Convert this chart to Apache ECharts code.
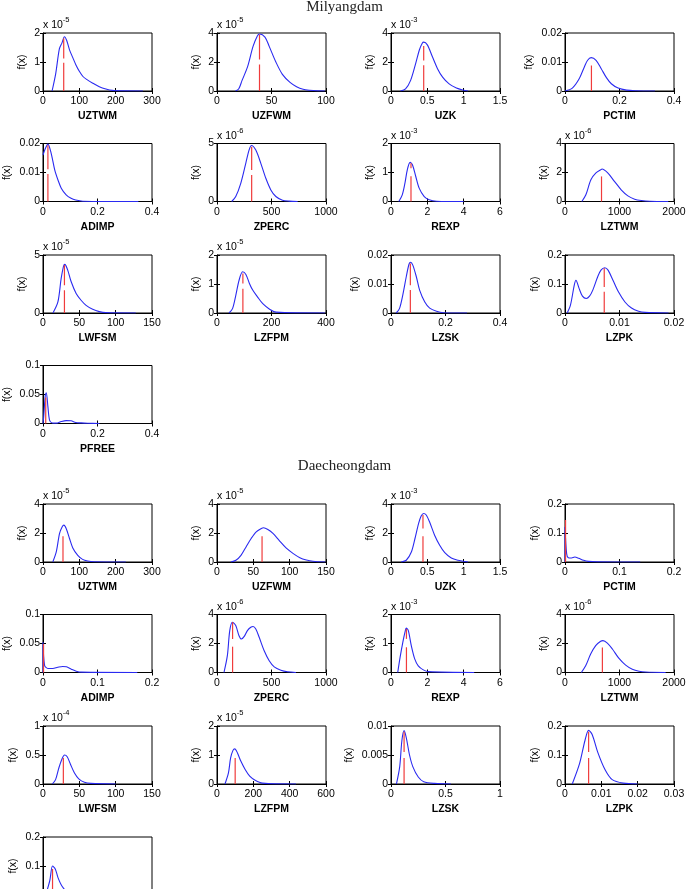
<!DOCTYPE html>
<html><head><meta charset="utf-8">
<script src="https://cdn.jsdelivr.net/npm/echarts@6/dist/echarts.min.js"></script>
<style>html,body{margin:0;padding:0;background:#fff}#c{width:689px;height:889px}</style>
</head><body><div id="c"></div>
<script>
// ---------- DATA ----------
const params = ['UZTWM','UZFWM','UZK','PCTIM','ADIMP','ZPERC','REXP','LZTWM','LWFSM','LZFPM','LZSK','LZPK','PFREE'];

// Milyangdam axis settings
const milXMax  = [300,100,1.5,0.4,0.4,1000,6,2000,150,400,0.4,0.02,0.4];
const milXStep = [100,50,0.5,0.2,0.2,500,2,1000,50,200,0.2,0.01,0.2];
const milYMax  = [2,4,4,0.02,0.02,5,2,4,5,2,0.02,0.2,0.1];
const milYStep = [1,2,2,0.01,0.01,5,1,2,5,1,0.01,0.1,0.05];
const milExp   = [-5,-5,-3,null,null,-6,-3,-6,-5,-5,null,null,null];

// Daecheongdam axis settings
const daeXMax  = [300,150,1.5,0.2,0.2,1000,6,2000,150,600,1,0.03,0.4];
const daeXStep = [100,50,0.5,0.1,0.1,500,2,1000,50,200,0.5,0.01,0.2];
const daeYMax  = [4,4,4,0.2,0.1,4,2,4,1,2,0.01,0.2,0.2];
const daeYStep = [2,2,2,0.1,0.05,2,1,2,0.5,1,0.005,0.1,0.1];
const daeExp   = [-5,-5,-3,null,null,-6,-3,-6,-4,-5,null,null,null];

// Milyangdam densities [x, f(x) in displayed units]
const milUZTWM = [[25,0],[35,0.6],[45,1.45],[52,1.65],[59,1.87],[65,1.75],[73,1.42],[82,1.15],[91,0.89],[100,0.68],[110,0.5],[120,0.4],[137,0.27],[155,0.15],[173,0.07],[191,0.02],[220,0.005],[275,0]];
const milUZFWM = [[17,0],[20,0.15],[23,0.73],[28,1.66],[33,3.06],[37,3.8],[39,3.93],[44,3.72],[48,3.06],[54,2.0],[60,1.15],[67,0.6],[73,0.3],[79,0.12],[85,0.05],[92,0.01],[99,0]];
const milUZK   = [[0.13,0],[0.2,0.14],[0.27,0.73],[0.34,1.9],[0.39,2.83],[0.43,3.3],[0.45,3.37],[0.5,3.18],[0.57,2.36],[0.64,1.54],[0.71,0.96],[0.8,0.49],[0.9,0.21],[0.99,0.07],[1.06,0]];
const milPCTIM = [[0,0],[0.027,0.001],[0.052,0.0042],[0.071,0.0083],[0.083,0.0106],[0.096,0.0115],[0.114,0.0106],[0.133,0.0077],[0.152,0.0046],[0.17,0.0025],[0.195,0.001],[0.226,0.0003],[0.26,0.0001],[0.33,0]];
const milADIMP = [[0,0.016],[0.006,0.0177],[0.018,0.0198],[0.03,0.0166],[0.043,0.0109],[0.055,0.0074],[0.067,0.0046],[0.085,0.0023],[0.103,0.0011],[0.12,0.0005],[0.146,0.0001],[0.35,0]];
const milZPERC = [[135,0],[172,0.43],[218,1.57],[264,3.29],[294,4.43],[316,4.83],[356,4.43],[402,3.29],[448,2.0],[494,1.0],[540,0.43],[601,0.11],[663,0.03],[740,0]];
const milREXP  = [[0.43,0],[0.62,0.23],[0.77,0.64],[0.9,1.1],[1.05,1.35],[1.18,1.27],[1.36,0.87],[1.55,0.46],[1.83,0.17],[2.1,0.06],[2.5,0.01],[4.0,0]];
const milLZTWM = [[309,0],[383,0.46],[475,1.5],[568,1.97],[660,2.2],[679,2.24],[784,1.97],[907,1.39],[1031,0.81],[1154,0.39],[1278,0.16],[1401,0.07],[1556,0.02],[1895,0]];
const milLWFSM = [[13.7,0],[20.5,0.95],[25,2.98],[28.3,4.05],[30,4.19],[34,3.7],[38.8,2.69],[45.6,1.68],[52.4,1.1],[59.3,0.66],[68.4,0.32],[77.5,0.12],[86.6,0.03],[127.7,0]];
const milLZFPM = [[44,0],[57,0.15],[69,0.61],[81,1.13],[94,1.42],[106,1.33],[119,1.02],[131,0.79],[149,0.55],[168,0.32],[193,0.13],[217,0.03],[396,0]];
const milLZSK  = [[0.019,0],[0.031,0.0015],[0.043,0.0061],[0.056,0.0125],[0.066,0.0168],[0.072,0.0175],[0.08,0.0165],[0.093,0.0125],[0.105,0.0079],[0.124,0.0038],[0.142,0.0017],[0.167,0.0006],[0.192,0.0001],[0.279,0]];
const milLZPK  = [[0.0004,0],[0.001,0.027],[0.0017,0.096],[0.002,0.113],[0.0026,0.084],[0.0032,0.058],[0.0039,0.05],[0.0045,0.058],[0.0051,0.079],[0.006,0.125],[0.0066,0.148],[0.0073,0.156],[0.0079,0.148],[0.0088,0.113],[0.0098,0.073],[0.011,0.038],[0.0122,0.017],[0.0135,0.006],[0.0147,0.002],[0.019,0]];
const milPFREE = [[0,0],[0.0024,0.011],[0.0085,0.049],[0.012,0.053],[0.018,0.029],[0.024,0.006],[0.034,0.001],[0.049,0.0006],[0.067,0.0034],[0.085,0.005],[0.103,0.0046],[0.12,0.0017],[0.14,0.001],[0.164,0.0005],[0.207,0]];

// Daecheongdam densities
const daeUZTWM = [[27,0],[36.5,0.69],[45.6,1.97],[52.9,2.43],[57.4,2.54],[63.8,2.31],[72.9,1.62],[82,0.97],[95.7,0.46],[109,0.18],[123,0.07],[141,0.02],[228,0]];
const daeUZFWM = [[19,0],[26,0.12],[33,0.46],[40,1.04],[47,1.62],[54,2.08],[61,2.31],[64,2.36],[70,2.24],[77,1.97],[86,1.46],[95,0.97],[105,0.58],[114,0.3],[123,0.14],[132,0.05],[149,0]];
const daeUZK   = [[0.14,0],[0.21,0.12],[0.28,0.69],[0.33,1.62],[0.38,2.66],[0.415,3.17],[0.45,3.35],[0.485,3.24],[0.53,2.77],[0.6,1.85],[0.67,1.16],[0.74,0.65],[0.83,0.28],[0.92,0.12],[1.0,0.05],[1.06,0]];
const daePCTIM = [[0,0],[0,0.121],[0.003,0.029],[0.006,0.015],[0.012,0.014],[0.018,0.017],[0.025,0.013],[0.034,0.006],[0.043,0.002],[0.06,0.0005],[0.138,0]];
const daeADIMP = [[0,0],[0,0.052],[0.003,0.012],[0.009,0.007],[0.018,0.007],[0.027,0.009],[0.036,0.0104],[0.043,0.0098],[0.052,0.0058],[0.061,0.0023],[0.07,0.0006],[0.173,0]];
const daeZPERC = [[64,0],[95,1.16],[117,2.89],[141,3.47],[172,3.24],[202,2.54],[224,2.31],[248,2.47],[279,2.89],[310,3.12],[331,3.17],[356,3.0],[387,2.43],[433,1.5],[479,0.81],[525,0.39],[586,0.16],[647,0.05],[724,0]];
const daeREXP  = [[0.37,0],[0.5,0.52],[0.65,1.04],[0.77,1.39],[0.84,1.53],[0.95,1.45],[1.12,0.92],[1.31,0.46],[1.5,0.23],[1.78,0.09],[2.06,0.03],[4.58,0]];
const daeLZTWM = [[300,0],[379,0.46],[471,1.27],[563,1.85],[654,2.15],[697,2.2],[777,2.03],[869,1.62],[991,0.97],[1113,0.51],[1235,0.23],[1358,0.09],[1480,0.03],[1847,0]];
const daeLWFSM = [[12.8,0],[17.3,0.075],[21.9,0.28],[26.4,0.44],[29.6,0.5],[33.3,0.47],[37.8,0.34],[43.3,0.19],[49.2,0.09],[57,0.03],[66,0.01],[100,0]];
const daeLZFPM = [[44,0],[63,0.38],[75,0.9],[88,1.16],[98,1.21],[112,1.08],[131,0.79],[155,0.5],[180,0.27],[210,0.13],[250,0.03],[435,0]];
const daeLZSK  = [[0.05,0],[0.08,0.003],[0.1,0.0075],[0.12,0.0092],[0.14,0.008],[0.17,0.005],[0.2,0.003],[0.25,0.0012],[0.3,0.0004],[0.4,0.0001],[0.55,0]];
const daeLZPK  = [[0.002,0],[0.004,0.07],[0.0055,0.15],[0.0065,0.185],[0.0075,0.17],[0.009,0.11],[0.011,0.05],[0.013,0.015],[0.016,0.003],[0.02,0]];
const daePFREE = [[0.01,0],[0.025,0.05],[0.035,0.1],[0.045,0.09],[0.055,0.06],[0.07,0.03],[0.09,0.01],[0.12,0.002],[0.2,0]];

// Red marker lines: x position, top of lower segment, optional upper segment [start, end]
const milRedX   = [57,39,0.45,0.097,0.018,318,1.1,670,29.5,95,0.071,0.0072,0.01];
const milRedLow = [0.97,1.82,1.78,0.0088,0.0095,2.29,0.87,1.73,1.97,0.84,0.0079,0.073,0.045];
const milRedUp  = [[1.12,1.82],[2.18,3.88],[2.1,3.1],null,[0.0111,0.0194],[2.71,4.71],[1.15,1.32],null,[2.4,4.13],[1.02,1.36],[0.0096,0.0171],[0.09,0.154],null];
const daeRedX   = [55,62,0.44,0.001,0.001,143,0.85,686,28,100,0.12,0.0065,0.035];
const daeRedLow = [1.78,1.78,1.78,0.145,0.049,1.78,0.87,1.73,0.45,0.9,0.0045,0.09,0.09];
const daeRedUp  = [null,null,[2.31,3.24],null,null,[2.31,3.47],[1.16,1.5],null,null,null,[0.0055,0.009],[0.11,0.18],null];

const milCurves = [milUZTWM,milUZFWM,milUZK,milPCTIM,milADIMP,milZPERC,milREXP,milLZTWM,milLWFSM,milLZFPM,milLZSK,milLZPK,milPFREE];
const daeCurves = [daeUZTWM,daeUZFWM,daeUZK,daePCTIM,daeADIMP,daeZPERC,daeREXP,daeLZTWM,daeLWFSM,daeLZFPM,daeLZSK,daeLZPK,daePFREE];

// ---------- LAYOUT ----------
const FONT = '"Liberation Sans", Arial, sans-serif';
const FS = 10.5;
const colLeft = [43, 217, 391, 565];
const plotW = 109, plotH = 58;
const rowTop = [[33, 143.5, 255, 365.5], [504, 614.5, 726, 837]];
const titleTop = [0, 459];
const blockTitles = ['Milyangdam', 'Daecheongdam'];

const blocks = [
  {curves: milCurves, xMax: milXMax, xStep: milXStep, yMax: milYMax, yStep: milYStep, exp: milExp, redX: milRedX, redLow: milRedLow, redUp: milRedUp},
  {curves: daeCurves, xMax: daeXMax, xStep: daeXStep, yMax: daeYMax, yStep: daeYStep, exp: daeExp, redX: daeRedX, redLow: daeRedLow, redUp: daeRedUp}
];

const ctx = document.createElement('canvas').getContext('2d');
ctx.font = FS + 'px "Liberation Sans"';
function fmt(v) { return String(parseFloat(Number(v).toPrecision(10))); }
function maxLabelW(max, step) {
  let w = 0;
  const n = Math.round(max / step);
  for (let k = 0; k <= n; k++) w = Math.max(w, ctx.measureText(fmt(k * step)).width);
  return w;
}

const grid = [], xAxis = [], yAxis = [], series = [], title = [];
const tickStyle = {show: true, inside: true, length: 3, lineStyle: {color: '#000', width: 1}};

blocks.forEach((b, bi) => {
  title.push({text: blockTitles[bi], left: 'center', top: titleTop[bi], padding: 0,
    textStyle: {fontFamily: '"Liberation Serif", "Times New Roman", serif', fontSize: 15, fontWeight: 'normal', color: '#222'}});
  params.forEach((p, i) => {
    const col = i % 4, row = Math.floor(i / 4);
    const gi = grid.length;
    const left = colLeft[col], top = rowTop[bi][row];
    grid.push({left: left, top: top, width: plotW, height: plotH, show: true, borderColor: '#000', borderWidth: 1,
      backgroundColor: '#fff', containLabel: false, outerBoundsMode: 'none'});
    const xi = xAxis.length;
    xAxis.push({gridIndex: gi, type: 'value', min: 0, max: b.xMax[i], interval: b.xStep[i], position: 'bottom',
      name: p, nameLocation: 'middle', nameGap: 20,
      nameTextStyle: {fontFamily: FONT, fontSize: FS, fontWeight: 'bold', color: '#000'},
      axisLine: {show: true, onZero: false, lineStyle: {color: '#000', width: 1}},
      axisTick: tickStyle,
      axisLabel: {show: true, margin: 5, formatter: fmt, fontFamily: FONT, fontSize: FS, color: '#000', showMinLabel: true, showMaxLabel: true, hideOverlap: false},
      splitLine: {show: false}});
    xAxis.push({gridIndex: gi, type: 'value', min: 0, max: b.xMax[i], interval: b.xStep[i], position: 'top',
      axisLine: {show: false}, axisTick: tickStyle, axisLabel: {show: false}, splitLine: {show: false}});
    const yi = yAxis.length;
    const lw = maxLabelW(b.yMax[i], b.yStep[i]);
    yAxis.push({gridIndex: gi, type: 'value', min: 0, max: b.yMax[i], interval: b.yStep[i], position: 'left',
      name: 'f(x)', nameLocation: 'middle', nameRotate: 90, nameGap: lw + 10,
      nameTextStyle: {fontFamily: FONT, fontSize: FS, color: '#000'},
      axisLine: {show: true, onZero: false, lineStyle: {color: '#000', width: 1}},
      axisTick: tickStyle,
      axisLabel: {show: true, margin: 3, formatter: fmt, fontFamily: FONT, fontSize: FS, color: '#000', showMinLabel: true, showMaxLabel: true, hideOverlap: false},
      splitLine: {show: false}});
    yAxis.push({gridIndex: gi, type: 'value', min: 0, max: b.yMax[i], interval: b.yStep[i], position: 'right',
      axisLine: {show: false}, axisTick: tickStyle, axisLabel: {show: false}, splitLine: {show: false}});

    series.push({type: 'line', xAxisIndex: xi, yAxisIndex: yi, data: b.curves[i], symbol: 'none', smooth: 0.3,
      lineStyle: {color: '#2a2af0', width: 1.1}, silent: true, z: 3});
    const rx = b.redX[i];
    series.push({type: 'line', xAxisIndex: xi, yAxisIndex: yi, data: [[rx, 0], [rx, b.redLow[i]]], symbol: 'none',
      lineStyle: {color: '#f03c3c', width: 1.2}, silent: true, z: 4});
    if (b.redUp[i]) {
      series.push({type: 'line', xAxisIndex: xi, yAxisIndex: yi, data: [[rx, b.redUp[i][0]], [rx, b.redUp[i][1]]], symbol: 'none',
        lineStyle: {color: '#f03c3c', width: 1.2}, silent: true, z: 4});
    }
    if (b.exp[i] !== null) {
      title.push({text: '{a|x 10}{b|' + b.exp[i] + '}', left: left, top: top - 17, padding: 0,
        textStyle: {fontWeight: 'normal', rich: {
          a: {fontFamily: FONT, fontSize: FS, fontWeight: 'normal', color: '#000', lineHeight: 15, verticalAlign: 'bottom'},
          b: {fontFamily: FONT, fontSize: 7.5, fontWeight: 'normal', color: '#000', lineHeight: 15, verticalAlign: 'top'}
        }}});
    }
  });
});

const chart = echarts.init(document.getElementById('c'), null, {renderer: 'canvas'});
chart.setOption({animation: false, backgroundColor: '#fff', title: title, grid: grid, xAxis: xAxis, yAxis: yAxis, series: series});
</script>
</body></html>
